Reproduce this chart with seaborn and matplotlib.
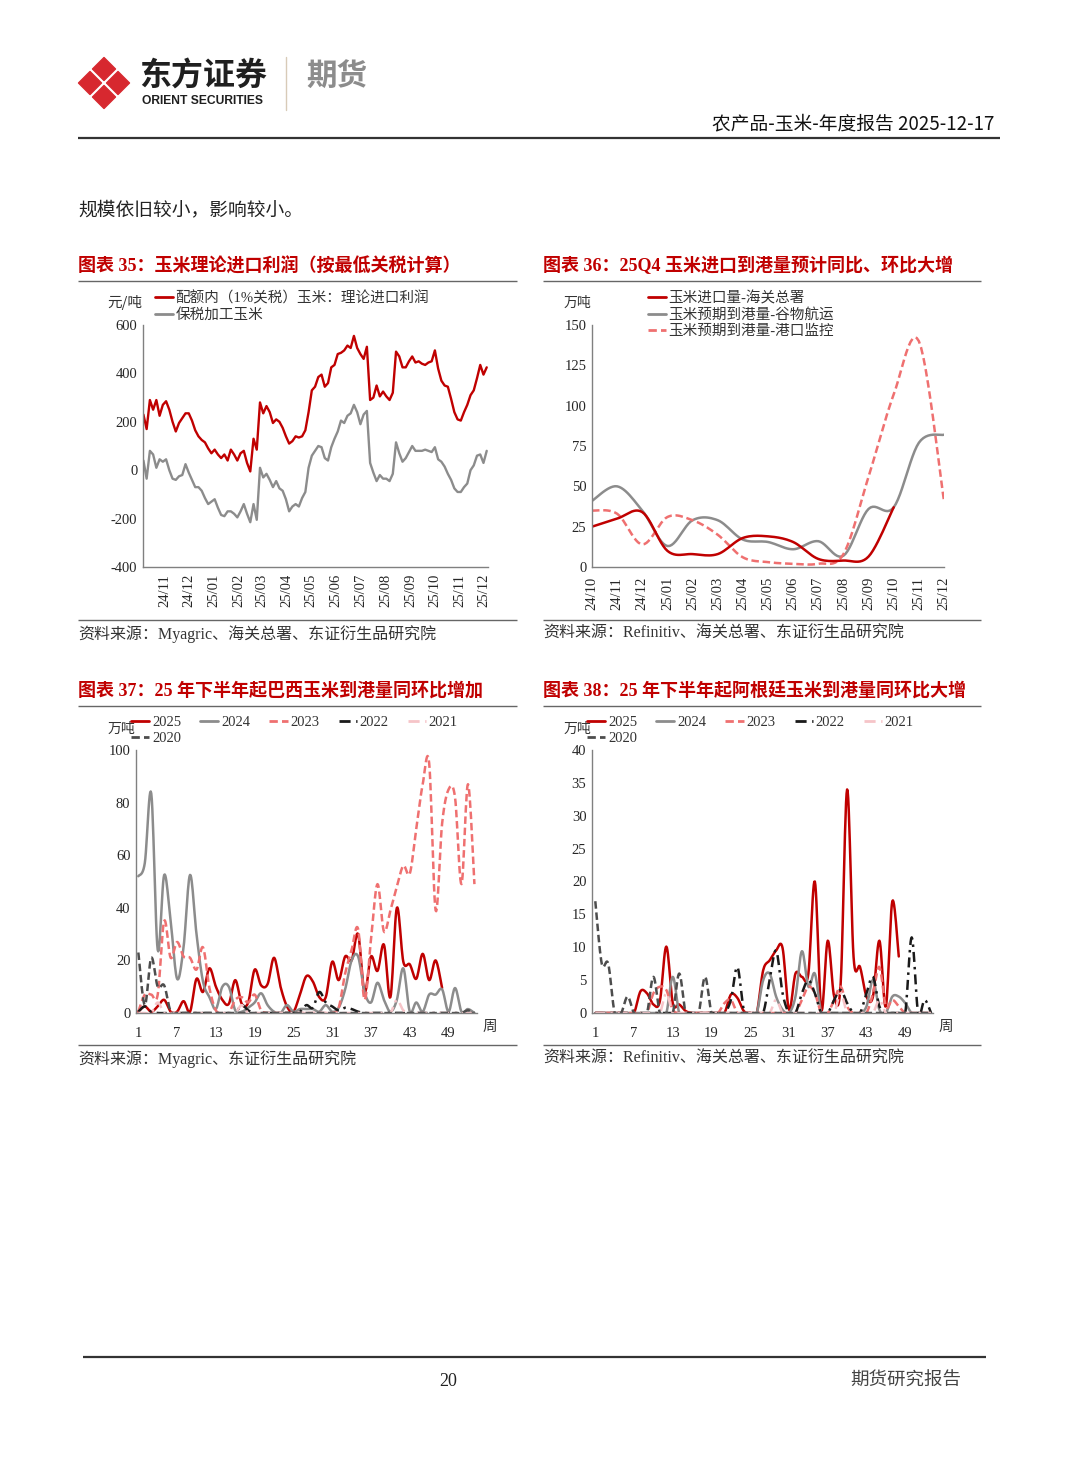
import numpy as np
import pandas as pd
import matplotlib
matplotlib.use('Agg')
import matplotlib.pyplot as plt
import matplotlib.dates as mdates
from matplotlib.patches import RegularPolygon
from matplotlib.lines import Line2D
from matplotlib.font_manager import FontProperties
import seaborn as sns

# ==========================================================
# DATOS
# ==========================================================
nan = np.nan

# 图表35: 理论进口利润 (每4天一个读数, 2024-10-06 起)
profit_quota = [230, 170, 290, 250, 290, 225, 270, 285, 250, 200,
                160, 195, 215, 235, 235, 205, 165, 140, 125, 115,
                90, 70, 85, 65, 50, 65, 40, 85, 65, 40,
                70, 80, 30, -5, 130, 85, 280, 235, 265, 240,
                195, 210, 200, 175, 140, 110, 120, 140, 135, 140,
                165, 240, 330, 345, 385, 395, 345, 360, 425, 435,
                480, 485, 495, 515, 505, 555, 505, 480, 460, 510,
                290, 300, 350, 305, 325, 305, 290, 320, 490, 470,
                425, 425, 450, 470, 445, 450, 440, 435, 445, 450,
                495, 420, 370, 350, 345, 295, 240, 210, 205, 240,
                270, 310, 330, 380, 435, 395, 425]
profit_bonded = [40, -35, 80, 65, 10, 45, 35, 45, 0, -35,
                 -40, -25, -20, 25, -10, -40, -70, -70, -85, -115,
                 -140, -130, -120, -155, -185, -190, -170, -170, -180, -195,
                 -170, -140, -180, -215, -140, -205, 10, -30, -15, -40,
                 -70, -45, -75, -85, -120, -170, -150, -140, -150, -115,
                 -90, 10, 60, 80, 100, 95, 50, 40, 95, 130,
                 160, 205, 195, 225, 235, 270, 240, 190, 230, 245,
                 30, -10, -45, -20, -35, -35, -45, -15, 115, 70,
                 35, 50, 75, 100, 80, 80, 80, 85, 80, 75,
                 95, 45, 35, 15, -15, -40, -75, -90, -90, -70,
                 -55, 0, 20, 60, 65, 30, 80]
profit_dates = pd.date_range('2024-10-06', periods=len(profit_quota), freq='4D')

# 图表36: 月度到港量 (万吨)
months36 = ['24/10', '24/11', '24/12', '25/01', '25/02', '25/03', '25/04', '25/05',
            '25/06', '25/07', '25/08', '25/09', '25/10', '25/11', '25/12']
customs36 = [25, 30, 34, 10, 8, 8, 18, 19, 15.5, 5, 4, 6.5, 37, nan, nan]
grain36 = [41, 50, 35, 13, 29, 29, 17, 15.5, 11, 16, 7, 36, 37, 77, 82]
port36 = [35, 33, 14, 31, 29, 20, 6, 3, 2, 2, 8, 56, 107, 140, 41]

# 图表37: 巴西玉米周度到港量 (万吨), 第1-53周
weeks = list(range(1, 54))
br_2025 = [0.5, 2.5, 0.5, 2.5, 5, 0.5, 0.5, 4.5, 0.5, 13,
           8, 17, 10, 5, 3.5, 12.5, 3.5, 4, 16.5, 10.5,
           11, 21, 10, 2.5, 0.5, 7, 14, 12, 6, 6,
           19.5, 12.5, 21.5, 20, 30, 8, 21.5, 16, 26, 6,
           40, 19.5, 18.5, 13, 22.5, 12.5, 20, 9.5, nan, nan,
           nan, nan, nan]
br_2024 = [52, 57, 83.5, 24, 52.5, 35, 13, 25, 52.5, 30,
           12, 6, 1.5, 10, 10, 1, 0.5, 2, 4, 7.5,
           3, 0.5, 0, 3, 0.5, 1.5, 1.5, 1.5, 0.5, 3,
           0.5, 2, 9, 20, 21.5, 8, 4, 11.5, 5, 0.5,
           5, 17, 0.5, 4, 0.5, 7, 7, 9, 0.5, 9.5,
           0.5, 1.5, 0]
br_2023 = [0.5, 7, 7, 7, 35, 21, 27, 21.5, 21, 16.5,
           25, 9.5, 1, 0, 0, 5, 6, 4, 7, 1,
           0, 0, 0, 0, 0, 0, 0, 0, 0, 0,
           0, 2, 15, 24, 32, 5, 28, 49, 31, 39,
           48, 56, 53, 70, 87, 95, 39, 72, 85, 82,
           49, 87, 49]
br_2022 = [0.5, 2.5, 0.5, 0, 0, 0, 0, 0, 0, 0,
           0, 0, 0, 0, 0, 0, 3, 1, 0, 0,
           0, 0, 0, 0, 0, 0.5, 3, 2, 8, 4,
           2.5, 1, 2, 1.5, 0.5, 0, 0, 0, 0, 0,
           0, 0, 0, 0, 0, 0, 0, 0, 0, 0,
           0, 0, 0]
br_2021 = [0, 0, 0, 4, 0, 0, 0, 0, 0, 0,
           0, 0, 0, 0, 0, 0, 3, 0, 0, 0,
           0, 0, 0, 0, 0, 0, 0, 0, 0, 0,
           0, 0, 0, 0, 0, 0, 0, 0, 0, 0,
           5, 1, 0, 0, 0, 0, 0, 0, 0, 0,
           0, 0, 0]
br_2020 = [23, 3, 21, 10, 10.5, 0.5, 0, 0, 0, 0,
           0, 0, 0, 0, 0, 0, 0, 0, 0, 0,
           0, 0, 0, 0, 0, 0, 0, 0, 0, 0,
           0, 0, 0, 0, 0, 0, 0, 0, 0, 0,
           0, 0, 0, 0, 0, 0, 0, 0, 0, 0,
           0, 1, 0]

# 图表38: 阿根廷玉米周度到港量 (万吨)
ar_2025 = [0, 0, 0, 0, 0, 0, 0, 3.3, 3, 1.3,
           1.8, 10.1, 1.5, 1.3, 0.3, 0, 0, 0, 0, 0,
           0, 2.8, 2.3, 0.3, 0, 0, 6.5, 8, 9.5, 9.9,
           0.5, 6, 5.5, 6, 20, 0.5, 11, 2.5, 4.5, 34,
           8.5, 7, 2.5, 2.5, 11, 1, 17, 8.6, nan, nan,
           nan, nan, nan]
ar_2024 = [0, 0, 0, 0, 0, 0, 0, 0, 0, 0,
           0, 0, 5.5, 0, 0, 0, 0, 0, 0, 0,
           0, 0, 0, 0, 0, 0, 5, 6, 2.5, 0.5,
           0, 2.5, 9.4, 4, 6, 0, 0, 0, 0, 0,
           0, 0, 1, 5, 0.5, 0, 2.5, 2.5, 1.5, 0,
           0, 0, 0]
ar_2023 = [0, 0, 0, 0, 0, 0, 0, 0, 0, 3,
           4, 3.5, 0.5, 0, 0, 0, 0, 0, 0, 0,
           1.5, 2, 0, 0, 0, 0, 0, 0, 0, 0,
           0, 0, 2, 4, 3, 0, 0, 2, 4, 1,
           0, 0, 0, 3, 7, 1, 2, 1, 0, 0,
           0, 0, 0]
ar_2022 = [0, 0, 0, 0, 0, 0, 0, 0, 0, 0,
           0, 0, 0, 0, 0, 0, 0, 0, 0, 0,
           0, 2, 7, 0.5, 0, 0, 0, 5, 9.5, 3,
           0, 0, 3, 5, 3, 0, 0, 2, 3.5, 1.5,
           0, 0, 3, 5.5, 1, 0, 0, 0, 0, 11.5,
           0, 2, 0]
ar_2021 = [0, 0, 0, 0, 0, 0, 0, 0, 0, 0,
           0, 3, 0, 0, 0, 0, 0, 0, 0, 0,
           0, 0, 0, 0, 0, 0, 0, 0, 2, 0,
           0, 0, 0, 0, 0, 0, 0, 0, 3, 0,
           0, 0, 0, 0, 2, 0, 0, 0, 0, 0,
           0, 0, 0]
ar_2020 = [17, 7.5, 7.5, 0, 0, 2.5, 0, 0, 0, 5.5,
           0, 0, 0, 6, 0, 0, 0, 5.5, 0, 0,
           0, 0, 0, 0, 0, 0, 0, 0, 0, 0,
           0, 0, 0, 0, 0, 0, 0, 0, 0, 0,
           0, 0, 0, 0, 0, 0, 0, 0, 0, 0,
           0, 0, 0]

year_labels = ['2025', '2024', '2023', '2022', '2021', '2020']

# ==========================================================
# ESTILO
# ==========================================================
sns.set_style('white')
SERIF = ['Liberation Serif', 'Noto Sans CJK SC', 'DejaVu Sans']
CJK = ['Noto Sans CJK SC', 'DejaVu Sans']
plt.rcParams['font.family'] = SERIF
plt.rcParams['axes.unicode_minus'] = False

RED = '#c00000'
GRAY = '#8c8c8c'
PINK = '#ef7070'
LIGHTPINK = '#f6c4c8'
DARK = '#1a1a1a'
DGRAY = '#4d4d4d'
AXC = '#808080'
TXT = '#333333'

year_styles = {
    '2025': dict(color=RED, ls='-'),
    '2024': dict(color=GRAY, ls='-'),
    '2023': dict(color=PINK, ls=(0, (3, 1.5))),
    '2022': dict(color=DARK, ls=(0, (4, 2, 1, 2))),
    '2021': dict(color=LIGHTPINK, ls=(0, (4, 2, 1, 2))),
    '2020': dict(color=DGRAY, ls=(0, (3, 1.5))),
}

W, H = 1080, 1466
fig = plt.figure(figsize=(W / 100, H / 100), dpi=100)
page = fig.add_axes([0, 0, 1, 1], zorder=0)
page.set_xlim(0, W)
page.set_ylim(H, 0)
page.axis('off')


def add_ax(x0, y0, x1, y1):
    ax = fig.add_axes([x0 / W, 1 - y1 / H, (x1 - x0) / W, (y1 - y0) / H], zorder=1)
    ax.set_facecolor('none')
    for s in ['top', 'right']:
        ax.spines[s].set_visible(False)
    for s in ['left', 'bottom']:
        ax.spines[s].set_color(AXC)
        ax.spines[s].set_linewidth(1)
    return ax


def smooth(xs, ys, n=12):
    # curva suavizada tipo Excel (Bezier por tramos)
    x = np.asarray(xs, float)
    y = np.asarray(ys, float)
    m = ~np.isnan(y)
    x, y = x[m], y[m]
    xp = np.r_[x[0], x, x[-1]]
    yp = np.r_[y[0], y, y[-1]]
    t = np.linspace(0, 1, n, endpoint=False)
    ox, oy = [], []
    for i in range(len(x) - 1):
        for arr, out in ((xp, ox), (yp, oy)):
            a0, a1, a2, a3 = arr[i], arr[i + 1], arr[i + 2], arr[i + 3]
            c1 = a1 + (a2 - a0) / 6
            c2 = a2 - (a3 - a1) / 6
            out.append((1 - t) ** 3 * a1 + 3 * (1 - t) ** 2 * t * c1
                       + 3 * (1 - t) * t ** 2 * c2 + t ** 3 * a2)
    ox.append([x[-1]])
    oy.append([y[-1]])
    return np.concatenate(ox), np.concatenate(oy)


def page_text(x, y, s, **kw):
    kw.setdefault('va', 'center')
    page.text(x, y, s, **kw)


def hline(y, x0, x1, lw=1.0, color='#555555'):
    page.plot([x0, x1], [y, y], color=color, lw=lw, solid_capstyle='butt')


# ==========================================================
# CABECERA Y PIE DE PÁGINA
# ==========================================================
logo_red = '#d7282f'
for cx, cy in [(104, 69), (104, 97), (90, 83), (118, 83)]:
    page.add_patch(RegularPolygon((cx, cy), numVertices=4, radius=11.5,
                                  orientation=0, facecolor=logo_red,
                                  edgecolor=logo_red, lw=1.0, joinstyle='round'))
page_text(139, 77, '东方证券', fontsize=23, fontweight='bold', family=CJK, color='#1f1f1f')
page_text(142, 101, 'ORIENT SECURITIES', fontsize=8.7, fontweight='bold',
          family=['Liberation Sans'], color='#1f1f1f')
page.plot([286, 286], [57, 110], color='#d8cbb8', lw=1)
page_text(306, 77, '期货', fontsize=22, fontweight='bold', family=CJK, color='#8c8c8c')
page_text(994, 124, '农产品-玉米-年度报告 2025-12-17', fontsize=13.5, family=CJK,
          ha='right', color='#111111')
hline(138, 78, 1000, lw=1.6, color='#333333')

page_text(78, 210, '规模依旧较小，影响较小。', fontsize=13.5, family=CJK, color='#222222')

hline(1357, 83, 986, lw=1.6, color='#333333')
page_text(448, 1381, '20', fontsize=13, ha='center', color='#222222')
page_text(961, 1381, '期货研究报告', fontsize=13.3, family=CJK, ha='right', color='#444444')

# títulos, líneas y fuentes
titles = [(78, 266, '图表 35：玉米理论进口利润（按最低关税计算）'),
          (543, 266, '图表 36：25Q4 玉米进口到港量预计同比、环比大增'),
          (78, 691, '图表 37：25 年下半年起巴西玉米到港量同环比增加'),
          (543, 691, '图表 38：25 年下半年起阿根廷玉米到港量同环比大增')]
for x, y, s in titles:
    page_text(x, y, s, fontsize=13, fontweight='bold', color=RED)

for y in [281, 706, 620, 1045]:
    hline(y, 78, 517, lw=1.0, color='#666666')
    hline(y, 543, 981, lw=1.0, color='#666666')

src_kw = dict(fontsize=11.5, color=TXT)
page_text(78, 634, '资料来源：Myagric、海关总署、东证衍生品研究院', **src_kw)
page_text(543, 634, '资料来源：Refinitiv、海关总署、东证衍生品研究院', **src_kw)
page_text(78, 1059, '资料来源：Myagric、东证衍生品研究院', **src_kw)
page_text(543, 1059, '资料来源：Refinitiv、海关总署、东证衍生品研究院', **src_kw)

leg_prop = FontProperties(family=SERIF, size=10.5)


def put_legend(ax, handles, labels, x, y, **kw):
    leg = ax.legend(handles, labels, loc='upper left', bbox_to_anchor=(x, y),
                    bbox_transform=page.transData, frameon=False, borderpad=0,
                    borderaxespad=0, prop=leg_prop, handletextpad=0.2, **kw)
    for t in leg.get_texts():
        t.set_color(TXT)
    return leg


TICK = 10.5

# ==========================================================
# 图表35
# ==========================================================
ax35 = add_ax(143, 325, 488, 567)
df35 = pd.DataFrame({'date': profit_dates, 'quota': profit_quota, 'bonded': profit_bonded})
sns.lineplot(data=df35, x='date', y='bonded', ax=ax35, color=GRAY, lw=1.7, legend=False)
sns.lineplot(data=df35, x='date', y='quota', ax=ax35, color=RED, lw=1.7, legend=False)
ax35.set_xlim(pd.Timestamp('2024-10-05 12:00'), pd.Timestamp('2025-12-05 14:00'))
ax35.set_ylim(-400, 600)
ax35.set_yticks([-400, -200, 0, 200, 400, 600])
ax35.xaxis.set_major_locator(mdates.MonthLocator(bymonthday=1))
ax35.xaxis.set_major_formatter(mdates.DateFormatter('%y/%m'))
ax35.tick_params(axis='x', rotation=90, labelsize=TICK, direction='in', length=3,
                 color=AXC, pad=5)
ax35.tick_params(axis='y', labelsize=TICK, direction='in', length=3, color=AXC, pad=4)
ax35.set_xlabel('')
ax35.set_ylabel('')
page_text(125, 303, '元/吨', fontsize=10.5, ha='center', family=CJK, color=TXT)
put_legend(ax35,
           [Line2D([], [], color=RED, lw=2), Line2D([], [], color=GRAY, lw=2)],
           ['配额内（1%关税）玉米：理论进口利润', '保税加工玉米'],
           155, 291, handlelength=1.2, labelspacing=0.18)

# ==========================================================
# 图表36
# ==========================================================
ax36 = add_ax(592, 325, 944, 567)
pos36 = np.arange(len(months36))
for vals, col, ls in [(grain36, GRAY, '-'), (port36, PINK, (0, (3, 1.5))),
                      (customs36, RED, '-')]:
    sx, sy = smooth(pos36, vals)
    sns.lineplot(x=sx, y=sy, ax=ax36, color=col, lw=1.8, linestyle=ls,
                 sort=False, estimator=None, legend=False)
ax36.set_xlim(0, 14)
ax36.set_ylim(0, 150)
ax36.set_yticks([0, 25, 50, 75, 100, 125, 150])
ax36.set_xticks(pos36)
ax36.set_xticklabels(months36, rotation=90)
ax36.tick_params(axis='x', labelsize=TICK, direction='out', length=4, color=AXC, pad=3)
ax36.tick_params(axis='y', labelsize=TICK, direction='in', length=3, color=AXC, pad=4)
page_text(577, 303, '万吨', fontsize=10, ha='center', family=CJK, color=TXT)
put_legend(ax36,
           [Line2D([], [], color=RED, lw=2), Line2D([], [], color=GRAY, lw=2),
            Line2D([], [], color=PINK, lw=2, ls=(0, (3, 1.5)))],
           ['玉米进口量-海关总署', '玉米预期到港量-谷物航运', '玉米预期到港量-港口监控'],
           648, 291, handlelength=1.2, labelspacing=0.18)


# ==========================================================
# 图表37 / 图表38
# ==========================================================
def weekly_chart(ax, series, ymax, ystep, unit_x, leg_x, week_x):
    for lab in year_labels:
        st = year_styles[lab]
        sx, sy = smooth(weeks, series[lab])
        sns.lineplot(x=sx, y=sy, ax=ax, color=st['color'], lw=1.8, linestyle=st['ls'],
                     sort=False, estimator=None, legend=False)
    ax.set_ylim(0, ymax)
    ax.set_yticks(np.arange(0, ymax + 1, ystep))
    ax.set_xticks([1, 7, 13, 19, 25, 31, 37, 43, 49])
    ax.tick_params(axis='x', labelsize=TICK, length=0, pad=10)
    ax.tick_params(axis='y', labelsize=TICK, direction='in', length=3, color=AXC, pad=4)
    page_text(unit_x, 729, '万吨', fontsize=10, ha='center', family=CJK, color=TXT)
    page_text(week_x, 1027, '周', fontsize=10.5, ha='center', family=CJK, color=TXT)
    order = ['2025', '2020', '2024', '2023', '2022', '2021']
    handles = [Line2D([], [], color=year_styles[k]['color'], lw=2, ls=year_styles[k]['ls'])
               for k in order]
    put_legend(ax, handles, order, leg_x, 716, ncol=5, handlelength=1.25,
               labelspacing=0.16, columnspacing=1.3)


ax37 = add_ax(136, 750, 477, 1013)
ax37.set_xlim(0.64, 53.4)
weekly_chart(ax37, dict(zip(year_labels, [br_2025, br_2024, br_2023, br_2022, br_2021, br_2020])),
             100, 20, 121, 131, 490)

ax38 = add_ax(592, 750, 933, 1013)
ax38.set_xlim(0.49, 53.3)
weekly_chart(ax38, dict(zip(year_labels, [ar_2025, ar_2024, ar_2023, ar_2022, ar_2021, ar_2020])),
             40, 5, 577, 587, 946)

fig.savefig('out.png', dpi=100)
